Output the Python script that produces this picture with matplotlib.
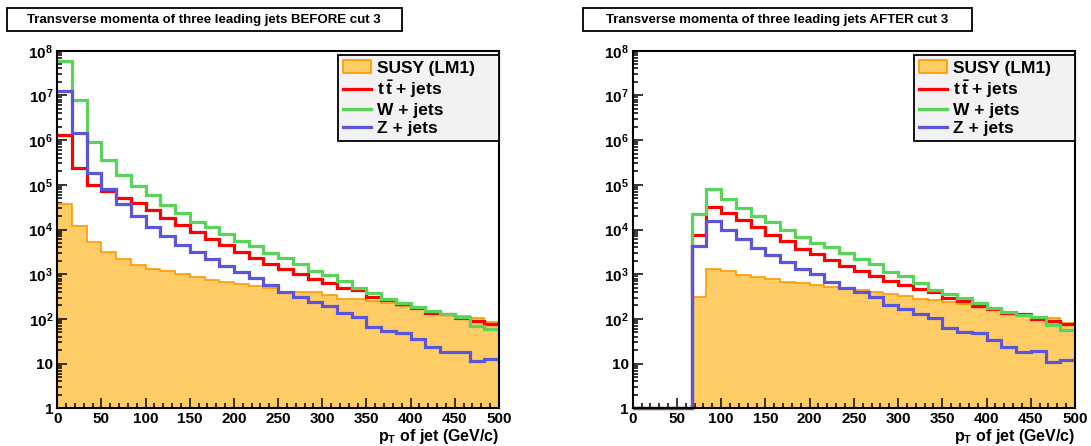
import numpy as np
import matplotlib
matplotlib.use("Agg")
import matplotlib.pyplot as plt
from matplotlib.patches import Patch, Rectangle
from matplotlib.lines import Line2D
from matplotlib.ticker import FixedLocator, FixedFormatter, MultipleLocator, NullFormatter

plt.rcParams['font.family'] = ['Liberation Sans', 'DejaVu Sans']
plt.rcParams['font.weight'] = 'bold'
plt.rcParams['mathtext.fontset'] = 'custom'
plt.rcParams['mathtext.rm'] = 'Liberation Sans:bold'
plt.rcParams['mathtext.it'] = 'Liberation Sans:bold'
plt.rcParams['mathtext.bf'] = 'Liberation Sans:bold'

# ---- data (30 bins, 0-500 GeV/c) ----
pt_min, pt_max, n_bins = 0, 500, 30

before_susy = [3.8e4, 1.22e4, 5.2e3, 3.1e3, 2.2e3, 1.6e3, 1.32e3, 1.18e3, 1.02e3, 860,
               750, 680, 610, 550, 500, 410, 400, 390, 345, 280,
               275, 253, 225, 195, 173, 138, 127, 117, 103, 87]
before_ttbar = [1.3e6, 2.4e5, 1.0e5, 7.1e4, 5.0e4, 3.9e4, 2.7e4, 1.85e4, 1.25e4, 8.7e3,
                6.0e3, 4.4e3, 3.2e3, 2.3e3, 1.7e3, 1.3e3, 1.02e3, 790, 630, 500,
                445, 315, 265, 213, 178, 138, 127, 103, 92, 77]
before_wjets = [6.0e7, 7.7e6, 9.1e5, 3.5e5, 1.66e5, 9.5e4, 5.8e4, 3.6e4, 2.3e4, 1.5e4,
                1.13e4, 7.9e3, 5.6e3, 4.2e3, 3.0e3, 2.3e3, 1.7e3, 1.2e3, 960, 700,
                490, 375, 280, 225, 182, 151, 129, 113, 70, 59]
before_zjets = [1.27e7, 1.44e6, 1.8e5, 8.0e4, 3.8e4, 2.0e4, 1.13e4, 7.3e3, 4.4e3, 3.2e3,
                2.2e3, 1.56e3, 1.11e3, 810, 560, 410, 315, 245, 195, 138,
                113, 65, 54, 48, 35, 23, 18.5, 18, 11.5, 12.5]

after_susy = [0, 0, 0, 0, 310, 1.32e3, 1.15e3, 960, 860, 780,
              680, 630, 560, 510, 490, 445, 390, 360, 330, 280,
              265, 235, 217, 195, 165, 145, 123, 103, 107, 83]
after_ttbar = [0, 0, 0, 0, 7.6e3, 3.2e4, 2.3e4, 1.65e4, 1.13e4, 7.6e3,
               5.4e3, 3.7e3, 2.8e3, 2.1e3, 1.56e3, 1.18e3, 890, 720, 575, 460,
               390, 300, 253, 195, 165, 134, 129, 98, 90, 77]
after_wjets = [0, 0, 0, 0, 2.2e4, 8.1e4, 4.9e4, 3.1e4, 2.0e4, 1.44e4,
               9.8e3, 6.9e3, 5.1e3, 4.0e3, 2.95e3, 2.2e3, 1.67e3, 1.11e3, 930, 650,
               445, 360, 290, 230, 178, 145, 123, 113, 73, 57]
after_zjets = [0, 0, 0, 0, 4.3e3, 1.56e4, 9.5e3, 6.0e3, 3.8e3, 2.7e3,
               1.86e3, 1.32e3, 1.0e3, 680, 490, 410, 310, 205, 167, 129,
               107, 64, 50, 48, 34, 23, 18, 19, 10.7, 12]

titles = ["Transverse momenta of three leading jets BEFORE cut 3",
          "Transverse momenta of three leading jets AFTER cut 3"]
legend_labels = ["SUSY (LM1)", r"$t\,\bar{t}$ + jets", "W + jets", "Z + jets"]
xlabel = r"$p_{T}$ of jet (GeV/c)"
ytick_vals = [1, 10, 1e2, 1e3, 1e4, 1e5, 1e6, 1e7, 1e8]
ytick_labels = ["1", "10", r"$10^{2}$", r"$10^{3}$", r"$10^{4}$", r"$10^{5}$",
                r"$10^{6}$", r"$10^{7}$", r"$10^{8}$"]

# ---- style ----
c_fill = "#ffcc66"
c_fill_edge = "#ff9900"
c_red = "#ff0000"
c_green = "#5ad35a"
c_blue = "#5a55d9"
ymin, ymax = 1, 1e8

W, H = 1091, 446
fig = plt.figure(figsize=(W / 100, H / 100), dpi=100)

edges = np.linspace(pt_min, pt_max, n_bins + 1)

panels = [
    (57.3, 499.0, 6.7, 401.7, titles[0], before_susy, before_ttbar, before_wjets, before_zjets),
    (632.7, 1075.0, 583.0, 972.0, titles[1], after_susy, after_ttbar, after_wjets, after_zjets),
]
y_top_px, y_bot_px = 50.7, 408.3

for (xl, xr, tl, tr, title, susy, tt, wj, zj) in panels:
    ax = fig.add_axes([xl / W, 1 - y_bot_px / H, (xr - xl) / W, (y_bot_px - y_top_px) / H])
    ax.set_yscale("log")
    ax.set_xlim(pt_min, pt_max)
    ax.set_ylim(ymin, ymax)

    s = np.clip(np.array(susy, float), ymin, None)
    ax.stairs(s, edges, baseline=ymin, fill=True, color=c_fill, lw=0, zorder=1)
    ax.stairs(s, edges, baseline=None, color=c_fill_edge, lw=1.2, zorder=2)
    for vals, col in [(tt, c_red), (wj, c_green), (zj, c_blue)]:
        v = np.clip(np.array(vals, float), ymin, None)
        ax.stairs(v, edges, baseline=None, color=col, lw=2.3, zorder=3, clip_on=False)

    for sp in ax.spines.values():
        sp.set_linewidth(1.5)
        sp.set_zorder(5)

    ax.yaxis.set_major_locator(FixedLocator(ytick_vals))
    ax.yaxis.set_major_formatter(FixedFormatter(ytick_labels))
    minors = [m * 10 ** e for e in range(0, 8) for m in range(2, 10)]
    ax.yaxis.set_minor_locator(FixedLocator(minors))
    ax.yaxis.set_minor_formatter(NullFormatter())
    ax.xaxis.set_major_locator(MultipleLocator(50))
    ax.xaxis.set_minor_locator(MultipleLocator(10))
    ax.tick_params(axis="both", which="both", direction="in", top=False, right=False,
                   labelsize=11, width=1.1)
    ax.tick_params(axis="both", which="major", length=7.5)
    ax.tick_params(axis="both", which="minor", length=3.8)
    ax.tick_params(axis="x", which="major", pad=2.5)
    ax.tick_params(axis="y", which="major", pad=3)
    for lab in ax.get_xticklabels() + ax.get_yticklabels():
        lab.set_fontweight("bold")

    ax.text(1.0, (y_bot_px - 441.5) / (y_bot_px - y_top_px), xlabel, transform=ax.transAxes,
            ha="right", va="baseline", fontsize=11.5, fontweight="bold")

    handles = [Patch(facecolor=c_fill, edgecolor=c_fill_edge, lw=1.2),
               Line2D([], [], color=c_red, lw=2.3),
               Line2D([], [], color=c_green, lw=2.3),
               Line2D([], [], color=c_blue, lw=2.3)]
    lx0 = (xr - xl - 161.3) / (xr - xl)
    leg = ax.legend(handles, legend_labels, loc="upper left",
                    bbox_to_anchor=(lx0, 0.988, 161.3 / (xr - xl), 0.0),
                    mode="expand", borderaxespad=0, fancybox=False, framealpha=1,
                    facecolor="#f2f2f2", edgecolor="black",
                    handlelength=1.6, handleheight=0.8, handletextpad=0.35,
                    borderpad=0.3, labelspacing=0.14, prop={"weight": "bold", "size": 12.5})
    leg.get_frame().set_linewidth(1.3)
    leg.set_zorder(10)

    # title box
    fig.add_artist(Rectangle((tl / W, 1 - 30.7 / H), (tr - tl) / W, 22.4 / H,
                             transform=fig.transFigure, facecolor="white",
                             edgecolor="black", lw=1.3))
    fig.text((tl + tr) / 2 / W, 1 - 19.6 / H, title, ha="center", va="center",
             fontsize=9.5, fontweight="bold")

fig.savefig("out.png", dpi=100)
